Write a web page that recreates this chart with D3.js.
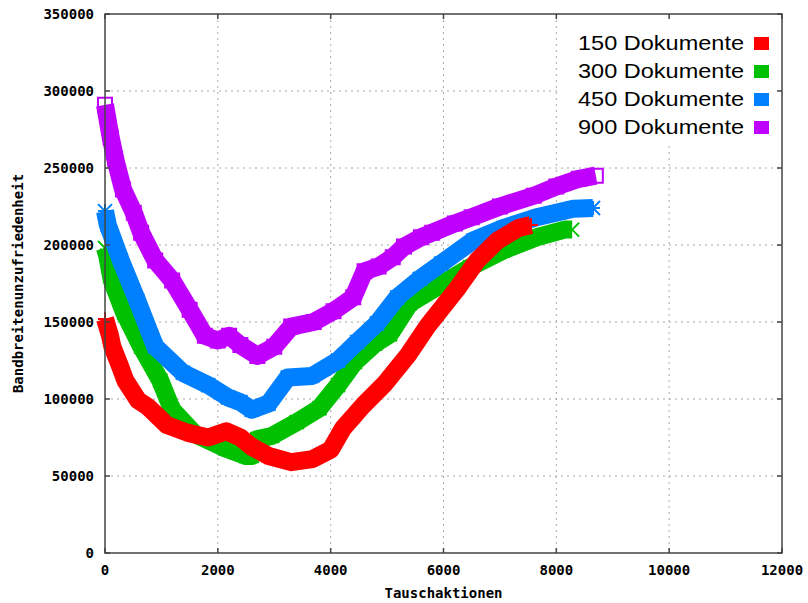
<!DOCTYPE html>
<html>
<head>
<meta charset="utf-8">
<script src="https://cdn.jsdelivr.net/npm/d3@7"></script>
<style>
  body { margin: 0; background: #fff; }
  svg { display: block; }
</style>
</head>
<body>
<div id="chart"></div>
<script>
// values (x = Tauschaktionen, y = Bandbreitenunzufriedenheit)
const red_x = [0, 90, 130, 270, 360, 590, 760, 1100, 1470, 1830, 2150, 2400, 2600, 2900, 3300, 3680, 4000, 4220, 4580, 4960, 5380, 5730, 5990, 6270, 6600, 6960, 7330, 7550];
const red_y = [152000, 141000, 134000, 121000, 112000, 99000, 95000, 83000, 78000, 75000, 79000, 75000, 69000, 63000, 59000, 61000, 67000, 81000, 96000, 110000, 129000, 148000, 160000, 173000, 190000, 203000, 211000, 213000];

const green_x = [0, 40, 120, 340, 640, 980, 1190, 1600, 2130, 2500, 2600, 2700, 2960, 3400, 3800, 4130, 4430, 4790, 5050, 5400, 5880, 6470, 7060, 7650, 8150, 8280];
const green_y = [198000, 193000, 177000, 156000, 134000, 112000, 93000, 77000, 68000, 63000, 63000, 74000, 76000, 85000, 94000, 109000, 124000, 136000, 142000, 162000, 172500, 185500, 196500, 205000, 210000, 210000];

const blue_x = [0, 50, 280, 570, 890, 1380, 1830, 2180, 2400, 2600, 2900, 3240, 3670, 4130, 4470, 4820, 5180, 5580, 5960, 6530, 7060, 7650, 8300, 8650];
const blue_y = [222000, 213000, 190000, 164000, 134000, 117000, 109000, 101000, 98000, 93000, 97000, 114000, 115000, 125000, 137000, 149000, 166000, 178000, 188000, 203000, 211000, 218000, 223500, 224000];

const purple_x = [0, 100, 180, 320, 510, 640, 890, 1190, 1500, 1770, 2000, 2200, 2400, 2700, 3000, 3300, 3700, 4050, 4400, 4600, 4850, 5100, 5300, 5600, 5800, 6200, 6500, 7000, 7600, 8000, 8400, 8700];
const purple_y = [291000, 270000, 256000, 236000, 221000, 208000, 190000, 177000, 158000, 141000, 138000, 141000, 135000, 128000, 134000, 147000, 150000, 157000, 166000, 183000, 186000, 192000, 199000, 205000, 208000, 214000, 218000, 225000, 232000, 238000, 243000, 245000];

const legend_labels = ["150 Dokumente", "300 Dokumente", "450 Dokumente", "900 Dokumente"];
const x_ticks = [0, 2000, 4000, 6000, 8000, 10000, 12000];
const y_ticks = [0, 50000, 100000, 150000, 200000, 250000, 300000, 350000];

const width = 808, height = 603;
const margin = {left: 105, right: 26, top: 14, bottom: 50};
const plotRight = width - margin.right;
const plotBottom = height - margin.bottom;

const svg = d3.select("#chart").append("svg")
    .attr("width", width)
    .attr("height", height);

svg.append("rect").attr("width", width).attr("height", height).attr("fill", "#fff");

const x = d3.scaleLinear().domain([0, 12000]).range([margin.left, plotRight]);
const y = d3.scaleLinear().domain([0, 350000]).range([plotBottom, margin.top]);

const tickFont = "'DejaVu Sans Mono', monospace";

// grid
svg.append("g")
    .selectAll("line")
    .data(x_ticks.slice(1, -1))
    .join("line")
    .attr("x1", d => x(d)).attr("x2", d => x(d))
    .attr("y1", margin.top).attr("y2", plotBottom)
    .attr("stroke", "#a8a8a8").attr("stroke-width", 1)
    .attr("stroke-dasharray", "2,4");

svg.append("g")
    .selectAll("line")
    .data(y_ticks.slice(1, -1))
    .join("line")
    .attr("y1", d => y(d)).attr("y2", d => y(d))
    .attr("x1", margin.left).attr("x2", plotRight)
    .attr("stroke", "#a8a8a8").attr("stroke-width", 1)
    .attr("stroke-dasharray", "2,4");

// key area is cleared
svg.append("rect")
    .attr("x", 561).attr("y", margin.top + 2)
    .attr("width", plotRight - 561 - 2).attr("height", 126)
    .attr("fill", "#fff");

// series (red drawn last, it sits on top in the original)
const series = [
    {label: legend_labels[3], color: "#c000ff", xs: purple_x, ys: purple_y, mark: "square"},
    {label: legend_labels[1], color: "#00c000", xs: green_x, ys: green_y, mark: "cross"},
    {label: legend_labels[2], color: "#0080ff", xs: blue_x, ys: blue_y, mark: "star"},
    {label: legend_labels[0], color: "#ff0000", xs: red_x, ys: red_y, mark: "plus"}
];

function markPath(type, s) {
    const plus = `M${-s},0H${s}M0,${-s}V${s}`;
    const cross = `M${-s},${-s}L${s},${s}M${-s},${s}L${s},${-s}`;
    if (type === "plus") return plus;
    if (type === "cross") return cross;
    if (type === "star") return plus + cross;
    return `M${-s},${-s}H${s}V${s}H${-s}Z`;
}

const line = d3.line()
    .x(d => x(d[0]))
    .y(d => y(d[1]));

series.forEach(function(s) {
    const pts = s.xs.map((v, i) => [v, s.ys[i]]);
    const g = svg.append("g");
    g.append("path")
        .attr("d", line(pts))
        .attr("fill", "none")
        .attr("stroke", s.color)
        .attr("stroke-width", 18)
        .attr("stroke-linejoin", "round");
    g.selectAll("path.mk")
        .data(pts)
        .join("path")
        .attr("class", "mk")
        .attr("transform", d => `translate(${x(d[0])},${y(d[1])})`)
        .attr("d", markPath(s.mark, 7))
        .attr("fill", "none")
        .attr("stroke", s.color)
        .attr("stroke-width", 2);
});

// border and ticks
svg.append("rect")
    .attr("x", margin.left).attr("y", margin.top)
    .attr("width", plotRight - margin.left).attr("height", plotBottom - margin.top)
    .attr("fill", "none").attr("stroke", "#444").attr("stroke-width", 1.5);

const tl = 5;
const ticks = svg.append("g").attr("stroke", "#444").attr("stroke-width", 1.5);
x_ticks.forEach(function(t) {
    ticks.append("line").attr("x1", x(t)).attr("x2", x(t)).attr("y1", plotBottom).attr("y2", plotBottom - tl);
    ticks.append("line").attr("x1", x(t)).attr("x2", x(t)).attr("y1", margin.top).attr("y2", margin.top + tl);
});
y_ticks.forEach(function(t) {
    ticks.append("line").attr("y1", y(t)).attr("y2", y(t)).attr("x1", margin.left).attr("x2", margin.left + tl);
    ticks.append("line").attr("y1", y(t)).attr("y2", y(t)).attr("x1", plotRight).attr("x2", plotRight - tl);
});

// tick labels
svg.append("g")
    .selectAll("text")
    .data(x_ticks)
    .join("text")
    .attr("x", d => x(d))
    .attr("y", plotBottom + 22)
    .attr("text-anchor", "middle")
    .style("font-family", tickFont)
    .style("font-weight", "bold")
    .style("font-size", "14px")
    .text(d => d);

svg.append("g")
    .selectAll("text")
    .data(y_ticks)
    .join("text")
    .attr("x", margin.left - 11)
    .attr("y", d => y(d) + 5)
    .attr("text-anchor", "end")
    .style("font-family", tickFont)
    .style("font-weight", "bold")
    .style("font-size", "14px")
    .text(d => d);

// axis titles
svg.append("text")
    .attr("x", (margin.left + plotRight) / 2)
    .attr("y", 598)
    .attr("text-anchor", "middle")
    .style("font-family", tickFont)
    .style("font-weight", "bold")
    .style("font-size", "14px")
    .text("Tauschaktionen");

svg.append("text")
    .attr("transform", `translate(23,${(margin.top + plotBottom) / 2}) rotate(-90)`)
    .attr("text-anchor", "middle")
    .style("font-family", tickFont)
    .style("font-weight", "bold")
    .style("font-size", "14px")
    .text("Bandbreitenunzufriedenheit");

// legend
const legendColors = ["#ff0000", "#00c000", "#0080ff", "#c000ff"];
const legend = svg.append("g");
legend_labels.forEach(function(lbl, i) {
    const base = 50 + i * 28;
    legend.append("text")
        .attr("x", 744)
        .attr("y", base)
        .attr("text-anchor", "end")
        .attr("textLength", 166)
        .attr("lengthAdjust", "spacingAndGlyphs")
        .style("font-family", "'Liberation Sans', Arial, sans-serif")
        .style("font-size", "21px")
        .text(lbl);
    legend.append("rect")
        .attr("x", 754).attr("y", base - 13)
        .attr("width", 15).attr("height", 13)
        .attr("fill", legendColors[i]);
});
</script>
</body>
</html>
